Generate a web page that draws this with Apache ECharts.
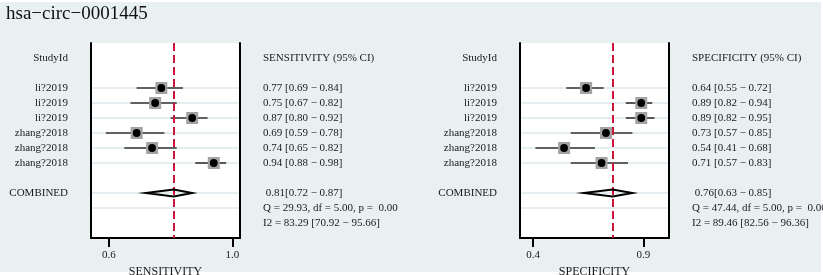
<!DOCTYPE html>
<html>
<head>
<meta charset="utf-8">
<script src="https://cdn.jsdelivr.net/npm/echarts@6/dist/echarts.min.js"></script>
<style>
  html, body { margin: 0; padding: 0; background: #fff; }
  #chart { width: 823px; height: 275px; }
</style>
</head>
<body>
<div id="chart"></div>
<script>
// data
var titleText = 'hsa\u2212circ\u22120001445';
var studies = ['li?2019', 'li?2019', 'li?2019', 'zhang?2018', 'zhang?2018', 'zhang?2018'];
var sens = [0.77, 0.75, 0.87, 0.69, 0.74, 0.94];
var sensLo = [0.69, 0.67, 0.80, 0.59, 0.65, 0.88];
var sensHi = [0.84, 0.82, 0.92, 0.78, 0.82, 0.98];
var spec = [0.64, 0.89, 0.89, 0.73, 0.54, 0.71];
var specLo = [0.55, 0.82, 0.82, 0.57, 0.41, 0.57];
var specHi = [0.72, 0.94, 0.95, 0.85, 0.68, 0.83];
var sensPooled = [0.81, 0.72, 0.87];
var specPooled = [0.76, 0.63, 0.85];
var sensHet = { Q: 29.93, df: 5.00, p: 0.00, I2: 83.29, I2lo: 70.92, I2hi: 95.66 };
var specHet = { Q: 47.44, df: 5.00, p: 0.00, I2: 89.46, I2lo: 82.56, I2hi: 96.36 };
var sensTicks = [0.6, 1.0];
var specTicks = [0.4, 0.9];

var FONT = '"Liberation Serif", "DejaVu Serif", serif';
var MINUS = ' \u2212 ';
// rows: 0 = top edge, 1 = header, 3..8 studies, 10 combined, 11 Q, 12 I2, 13 bottom edge
var STUDY_ROW0 = 3, COMB_ROW = 10;

function f2(v) { return v.toFixed(2); }

function leftLabels() {
    var a = [];
    for (var i = 0; i <= 13; i++) a.push('');
    a[1] = 'StudyId';
    studies.forEach(function (s, i) { a[STUDY_ROW0 + i] = s; });
    a[COMB_ROW] = 'COMBINED';
    return a;
}
function rightLabels(name, est, lo, hi, pooled, het) {
    var a = [];
    for (var i = 0; i <= 13; i++) a.push('');
    a[1] = name + ' (95% CI)';
    est.forEach(function (v, i) {
        a[STUDY_ROW0 + i] = f2(v) + ' [' + f2(lo[i]) + MINUS + f2(hi[i]) + ']';
    });
    a[COMB_ROW] = ' ' + f2(pooled[0]) + '[' + f2(pooled[1]) + MINUS + f2(pooled[2]) + ']';
    a[COMB_ROW + 1] = 'Q = ' + f2(het.Q) + ', df = ' + f2(het.df) + ', p =  ' + f2(het.p);
    a[COMB_ROW + 2] = 'I2 = ' + f2(het.I2) + ' [' + f2(het.I2lo) + MINUS + f2(het.I2hi) + ']';
    return a;
}

var lLab = leftLabels();
var sensLab = rightLabels('SENSITIVITY', sens, sensLo, sensHi, sensPooled, sensHet);
var specLab = rightLabels('SPECIFICITY', spec, specLo, specHi, specPooled, specHet);

function yAxes(gridIndex, rightLab) {
    var common = {
        type: 'value', gridIndex: gridIndex, min: 0, max: 13, interval: 1, inverse: true,
        axisLine: { show: true, onZero: false, lineStyle: { color: '#000', width: 2 } },
        axisTick: { show: false },
        splitLine: { show: false }
    };
    return [
        Object.assign({}, common, {
            position: 'left',
            axisLabel: {
                margin: 23, fontFamily: FONT, fontSize: 11, color: '#1a1a1a',
                formatter: function (v) { return lLab[v] || ''; }
            }
        }),
        Object.assign({}, common, {
            position: 'right',
            axisLabel: {
                margin: 23, fontFamily: FONT, fontSize: 11, color: '#1a1a1a',
                formatter: function (v) { return rightLab[v] || ''; }
            }
        })
    ];
}

function xAxis(gridIndex, min, max, ticks, name) {
    return {
        type: 'value', gridIndex: gridIndex, min: min, max: max, position: 'bottom',
        axisLine: { show: true, onZero: false, lineStyle: { color: '#000', width: 2 } },
        axisTick: { show: true, customValues: ticks, length: 9, lineStyle: { color: '#000', width: 2 } },
        axisLabel: {
            customValues: ticks, margin: 12, fontFamily: FONT, fontSize: 11, color: '#1a1a1a',
            formatter: function (v) { return v.toFixed(1); }
        },
        splitLine: { show: false },
        name: name, nameLocation: 'middle', nameGap: 22,
        nameTextStyle: { fontFamily: FONT, fontSize: 12, color: '#1a1a1a' }
    };
}

// faint row guide lines across the white box
function guideSeries(xi, yi) {
    var rows = [];
    for (var i = 0; i < studies.length; i++) rows.push([STUDY_ROW0 + i]);
    rows.push([COMB_ROW], [COMB_ROW + 1]);
    return {
        type: 'custom', xAxisIndex: xi, yAxisIndex: yi, silent: true, z: 1,
        data: rows,
        renderItem: function (params, api) {
            var y = api.coord([0, api.value(0)])[1];
            var cs = params.coordSys;
            return {
                type: 'line',
                shape: { x1: cs.x + 1, y1: y, x2: cs.x + cs.width - 1, y2: y },
                style: { stroke: '#e4edf0', lineWidth: 2 }
            };
        }
    };
}

function studySeries(xi, yi, est, lo, hi, pooled) {
    var data = est.map(function (v, i) { return [v, lo[i], hi[i], STUDY_ROW0 + i]; });
    return {
        type: 'custom', xAxisIndex: xi, yAxisIndex: yi, z: 3,
        data: data,
        renderItem: function (params, api) {
            var row = api.value(3);
            var p = api.coord([api.value(0), row]);
            var a = api.coord([api.value(1), row]);
            var b = api.coord([api.value(2), row]);
            return {
                type: 'group',
                children: [
                    { type: 'line', shape: { x1: a[0], y1: a[1], x2: b[0], y2: b[1] },
                      style: { stroke: '#333', lineWidth: 1.6 } },
                    { type: 'rect', shape: { x: p[0] - 6, y: p[1] - 6, width: 12, height: 12 },
                      style: { fill: '#a3a3a3' } },
                    { type: 'circle', shape: { cx: p[0], cy: p[1], r: 3.9 },
                      style: { fill: '#000' } }
                ]
            };
        },
        markLine: {
            silent: true, symbol: 'none', z: 4,
            label: { show: false },
            lineStyle: { color: '#cf1439', width: 2, type: [8, 4] },
            data: [{ xAxis: pooled[0] }]
        }
    };
}

function pooledSeries(xi, yi, pooled) {
    return {
        type: 'custom', xAxisIndex: xi, yAxisIndex: yi, z: 5,
        data: [[pooled[0], pooled[1], pooled[2], COMB_ROW]],
        renderItem: function (params, api) {
            var row = api.value(3);
            var p = api.coord([api.value(0), row]);
            var a = api.coord([api.value(1), row]);
            var b = api.coord([api.value(2), row]);
            return {
                type: 'polygon',
                shape: { points: [[a[0], a[1]], [p[0], p[1] - 3.5], [b[0], b[1]], [p[0], p[1] + 3.5]] },
                style: { fill: 'rgba(255,255,255,0)', stroke: '#000', lineWidth: 2 }
            };
        }
    };
}

var chart = echarts.init(document.getElementById('chart'), null, { renderer: 'canvas' });
chart.setOption({
    animation: false,
    backgroundColor: '#fff',
    graphic: [{
        type: 'rect', z: -10, silent: true,
        shape: { x: 0, y: 2, width: 821, height: 270 },
        style: { fill: '#e8f0f2' }
    }],
    title: {
        text: titleText, left: 1, top: 0,
        textStyle: { fontFamily: FONT, fontSize: 19, fontWeight: 'normal', color: '#111' }
    },
    grid: [
        { left: 91, top: 43, width: 149, height: 195, show: true, backgroundColor: '#fff',
          borderWidth: 0, outerBoundsMode: 'none', containLabel: false },
        { left: 520, top: 43, width: 149, height: 195, show: true, backgroundColor: '#fff',
          borderWidth: 0, outerBoundsMode: 'none', containLabel: false }
    ],
    xAxis: [
        xAxis(0, 0.542, 1.025, sensTicks, 'SENSITIVITY'),
        xAxis(1, 0.34, 1.016, specTicks, 'SPECIFICITY')
    ],
    yAxis: yAxes(0, sensLab).concat(yAxes(1, specLab)),
    series: [
        guideSeries(0, 0),
        studySeries(0, 0, sens, sensLo, sensHi, sensPooled),
        pooledSeries(0, 0, sensPooled),
        guideSeries(1, 2),
        studySeries(1, 2, spec, specLo, specHi, specPooled),
        pooledSeries(1, 2, specPooled)
    ]
});
</script>
</body>
</html>
